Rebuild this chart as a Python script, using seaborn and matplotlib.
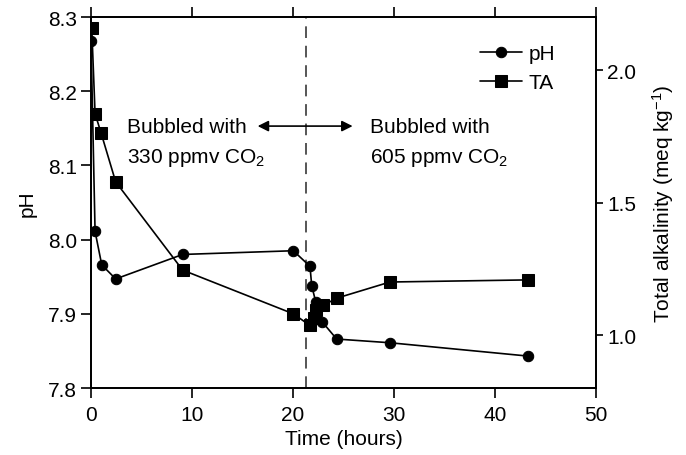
import matplotlib
matplotlib.use("Agg")
import matplotlib.pyplot as plt
import seaborn as sns
import pandas as pd

# Sampling times (hours) and measured values
ph_time = [0.0, 0.4, 1.06, 2.44, 9.07, 20.03, 21.68, 21.85, 22.25, 22.9, 24.32, 29.6, 43.3]
ph_value = [8.267, 8.011, 7.966, 7.947, 7.980, 7.985, 7.964, 7.938, 7.916, 7.889, 7.866, 7.861, 7.843]

ta_time = [0.07, 0.4, 0.99, 2.44, 9.07, 20.03, 21.68, 22.1, 22.3, 23.0, 24.32, 29.6, 43.3]
ta_value = [2.160, 1.835, 1.763, 1.578, 1.245, 1.080, 1.036, 1.065, 1.095, 1.112, 1.139, 1.200, 1.208]

switch_time = 21.3

ph_df = pd.DataFrame({"time": ph_time, "pH": ph_value})
ta_df = pd.DataFrame({"time": ta_time, "TA": ta_value})

sns.set_style("ticks")
plt.rcParams["font.family"] = ["Liberation Sans", "DejaVu Sans"]
plt.rcParams["mathtext.fontset"] = "custom"
plt.rcParams["mathtext.rm"] = "Liberation Sans"
plt.rcParams["mathtext.it"] = "Liberation Sans:italic"
plt.rcParams["axes.linewidth"] = 1.3
for key in ("text.color", "axes.labelcolor", "xtick.color", "ytick.color",
            "axes.edgecolor"):
    plt.rcParams[key] = "black"

FS = 15

fig = plt.figure(figsize=(6.86, 4.56), dpi=100)
ax = fig.add_axes([0.1327, 0.1469, 0.7361, 0.8136])
ax2 = ax.twinx()

sns.lineplot(data=ph_df, x="time", y="pH", ax=ax, color="black", marker="o",
             markersize=7.5, markeredgecolor="black", linewidth=1.2, label="pH",
             legend=False)
sns.lineplot(data=ta_df, x="time", y="TA", ax=ax2, color="black", marker="s",
             markersize=8, markeredgecolor="black", linewidth=1.2, label="TA",
             legend=False)

ax.axvline(switch_time, color="#555555", linestyle=(0, (6, 4)), linewidth=1.4, zorder=0)

ax.set_xlim(0, 50)
ax.set_ylim(7.8, 8.3)
ax2.set_ylim(0.8, 2.2)
ax.set_xticks([0, 10, 20, 30, 40, 50])
ax.set_yticks([7.8, 7.9, 8.0, 8.1, 8.2, 8.3])
ax2.set_yticks([1.0, 1.5, 2.0])
ax2.set_yticklabels(["1.0", "1.5", "2.0"])

ax.set_xlabel("Time (hours)", fontsize=FS, labelpad=4)
ax.set_ylabel("pH", fontsize=FS, labelpad=8)
ax2.set_ylabel("Total alkalinity (meq kg$^{-1}$)", fontsize=FS, labelpad=10)

ax.tick_params(axis="both", which="major", direction="out", length=7, width=1.2,
               labelsize=FS, pad=3, top=True, right=False)
ax.tick_params(axis="x", which="major", top=True, labeltop=False, pad=5)
ax2.tick_params(axis="y", direction="out", length=5, width=1.2, labelsize=FS, pad=3)

for a in (ax, ax2):
    for s in a.spines.values():
        s.set_visible(True)
        s.set_linewidth(1.3)
        s.set_color("black")

# Annotations for the two bubbling periods
ax.text(3.6, 8.152, "Bubbled with", fontsize=FS, va="center", ha="left")
ax.text(3.6, 8.111, "330 ppmv CO$_2$", fontsize=FS, va="center", ha="left")
ax.text(27.6, 8.152, "Bubbled with", fontsize=FS, va="center", ha="left")
ax.text(27.6, 8.111, "605 ppmv CO$_2$", fontsize=FS, va="center", ha="left")
ax.annotate("", xy=(16.5, 8.153), xytext=(25.9, 8.153),
            arrowprops=dict(arrowstyle="<|-|>", color="black", lw=1.2,
                            mutation_scale=16, shrinkA=0, shrinkB=0))

h1, l1 = ax.get_legend_handles_labels()
h2, l2 = ax2.get_legend_handles_labels()
ax2.legend(h1 + h2, l1 + l2, loc="upper right", bbox_to_anchor=(0.935, 0.95),
           frameon=False, fontsize=FS, handlelength=2.0, handletextpad=0.3,
           labelspacing=0.5, borderaxespad=0)

fig.savefig("out.png", dpi=100)
